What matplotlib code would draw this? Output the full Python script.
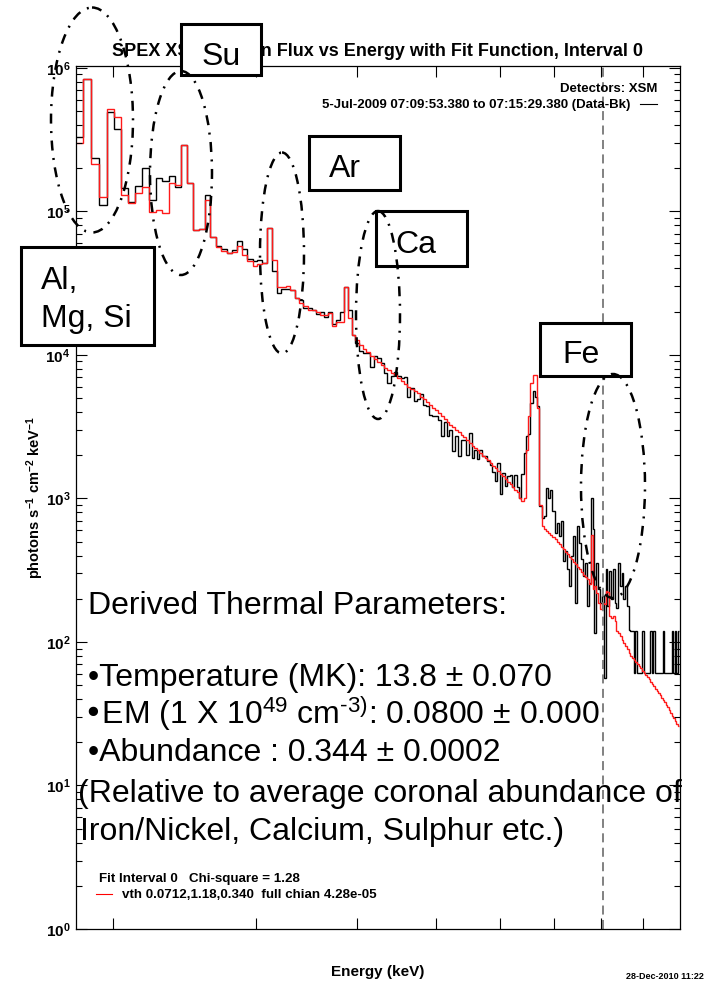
import numpy as np
import matplotlib
matplotlib.use('Agg')
import matplotlib.pyplot as plt
from matplotlib.patches import Ellipse, Rectangle
from matplotlib.ticker import FixedLocator, LogLocator, NullFormatter, NullLocator, FuncFormatter

plt.rcParams['font.family'] = ['Liberation Sans']
plt.rcParams['font.weight'] = 'bold'
plt.rcParams['mathtext.default'] = 'regular'

NARROW = ['Liberation Sans Narrow', 'Liberation Sans']

# XSM channel grid (keV)
chan_start = 1.795
chan_width = 0.042

# data - background (black histogram)
data_flux = [
    3.28e5, 8.36e5, 2.35e5, 1.11e5, 4.95e5, 3.73e5, 1.45e5, 1.17e5, 1.50e5, 2.00e5,
    1.20e5, 1.70e5, 1.64e5, 1.77e5, 1.49e5, 2.90e5, 1.57e5, 7.4e4, 7.5e4, 1.3e5,
    6.6e4, 5.75e4, 5.5e4, 5.1e4, 5.4e4, 6.2e4, 5.5e4, 4.65e4, 4.48e4, 4.6e4,
    4.37e4, 7.64e4, 3.87e4, 2.70e4, 2.87e4, 2.87e4, 2.81e4, 2.49e4, 2.4e4, 2.12e4,
    2.12e4, 2.04e4, 1.94e4, 1.98e4, 1.85e4, 2.0e4, 1.65e4, 1.76e4, 1.98e4, 2.97e4,
    2.06e4, 1.38e4, 1.21e4, 1.06e4, 1.03e4, 1.03e4, 8.3e3, 9.8e3, 9.5e3, 8.8e3,
    7.5e3, 6.4e3, 7.1e3, 7.55e3, 7.1e3, 6.9e3, 7.0e3, 5.1e3, 5.9e3, 4.75e3,
    4.9e3, 5.3e3, 4.5e3, 4.4e3, 3.84e3, 3.78e3, 3.73e3, 3.54e3, 2.71e3, 3.39e3,
    2.71e3, 3.0e3, 2.13e3, 2.71e3, 1.97e3, 2.54e3, 2.54e3, 2.02e3, 2.86e3, 1.92e3,
    2.16e3, 1.87e3, 2.16e3, 1.97e3, 1.99e3, 1.82e3, 1.72e3, 1.52e3, 1.32e3, 1.77e3,
    1.08e3, 1.51e3, 1.22e3, 1.43e3, 1.45e3, 1.2e3, 1.45e3, 1.2e3, 1.0e3, 1.47e3,
    2.08e3, 2.71e3, 2.79e3, 4.6e3, 5.6e3, 5.1e3, 4.4e3, 881, 733, 752,
    1180, 1010, 1140, 815, 575, 676, 546, 694, 366, 430,
    320, 245, 396, 546, 188, 640, 491, 376, 288, 356,
    178, 259, 1000, 608, 116, 356, 232, 188, 209, 56.5,
    320, 178, 312, 198, 320, 188, 173, 356, 245, 304,
    198, 245, 178, 122, 119, 119, 61, 119, 61, 61,
    61, 119, 61, 61, 61, 61, 119, 61, 119, 61,
    61, 61, 61, 61, 119, 61, 61, 61, 61, 61,
    119, 61, 119, 61, 119,
]

# vth fit model (red histogram)
model_flux = [
    2.98e5, 8.36e5, 2.14e5, 1.26e5, 5.14e5, 4.53e5, 1.30e5, 1.15e5, 1.34e5, 1.47e5,
    9.97e4, 1.02e5, 9.7e4, 1.57e5, 1.53e5, 2.90e5, 1.57e5, 7.4e4, 7.5e4, 1.2e5,
    6.6e4, 5.64e4, 5.3e4, 5.1e4, 5.2e4, 5.75e4, 4.98e4, 4.48e4, 4.13e4, 4.3e4,
    4.4e4, 7.64e4, 4.6e4, 2.97e4, 2.97e4, 3.0e4, 2.81e4, 2.49e4, 2.3e4, 2.2e4,
    2.07e4, 2.04e4, 1.98e4, 1.9e4, 1.9e4, 1.96e4, 1.6e4, 1.7e4, 1.7e4, 2.97e4,
    1.81e4, 1.38e4, 1.26e4, 1.18e4, 1.10e4, 1.04e4, 9.9e3, 9.4e3, 8.97e3, 8.55e3,
    8.1e3, 7.8e3, 7.5e3, 7.2e3, 6.9e3, 6.6e3, 6.3e3, 6.0e3, 5.8e3, 5.6e3,
    5.4e3, 5.1e3, 4.9e3, 4.7e3, 4.5e3, 4.3e3, 4.1e3, 3.94e3, 3.73e3, 3.58e3,
    3.43e3, 3.27e3, 3.15e3, 3.0e3, 2.89e3, 2.77e3, 2.67e3, 2.54e3, 2.44e3, 2.33e3,
    2.25e3, 2.16e3, 2.07e3, 1.99e3, 1.92e3, 1.84e3, 1.77e3, 1.69e3, 1.62e3, 1.55e3,
    1.49e3, 1.43e3, 1.37e3, 1.31e3, 1.26e3, 1.20e3, 1.15e3, 1.10e3, 1.0e3, 960,
    1.0e3, 2.19e3, 3.73e3, 6.4e3, 7.3e3, 7.3e3, 4.3e3, 907, 640, 608,
    592, 575, 555, 537, 518, 496, 478, 460, 441, 422,
    407, 392, 376, 360, 347, 334, 320, 307, 295, 284,
    273, 252, 560, 232, 245, 220, 188, 169, 188, 183,
    226, 222, 151, 148, 151, 140, 119, 116, 110, 104,
    99, 94, 89, 84, 80, 77, 75, 72, 70, 68,
    66, 63, 61, 59, 57, 55, 53, 51, 49, 47,
    45.5, 44, 42.5, 41, 39.5, 38, 36.5, 35, 33.5, 32,
    30.5, 29.5, 28.3, 27, 26,
]

x_ticks = [2, 3, 4, 5, 6, 7, 8, 9]
fe_marker = 8.04

edges = chan_start + chan_width * np.arange(len(data_flux) + 1)

W, H = 704, 981
fig = plt.figure(figsize=(W / 100, H / 100), dpi=100)
ax = fig.add_axes([76 / W, 1 - 929 / H, (680 - 76) / W, (929 - 66) / H])
ax.set_xscale('log')
ax.set_yscale('log')

ax.stairs(data_flux, edges, baseline=None, color='black', lw=1.0)
ax.stairs(model_flux, edges, baseline=None, color='#ff1a1a', lw=1.0)
ax.axvline(fe_marker, color='#777777', ls=(0, (5, 3)), lw=1.3)

ax.set_xlim(1.8, 10.0)
ax.set_ylim(1, 1.03e6)

ax.xaxis.set_major_locator(FixedLocator(x_ticks))
ax.xaxis.set_minor_locator(NullLocator())
ax.xaxis.set_major_formatter(NullFormatter())
ax.yaxis.set_major_locator(LogLocator(base=10, numticks=10))
ax.yaxis.set_minor_locator(LogLocator(base=10, subs=np.arange(2, 10), numticks=20))
ax.yaxis.set_minor_formatter(NullFormatter())
ax.yaxis.set_major_formatter(FuncFormatter(lambda v, p: r'$10^{%d}$' % round(np.log10(v))))
ax.tick_params(which='both', direction='in', top=True, right=True, width=0.8)
ax.tick_params(which='major', length=8, labelsize=11, pad=4)
ax.tick_params(which='minor', length=4)
for s in ax.spines.values():
    s.set_linewidth(0.9)

ax.set_title('SPEX XSM Photon Flux vs Energy with Fit Function, Interval 0',
             fontsize=13, fontweight='bold', family=NARROW, pad=7)
ax.set_ylabel(r'photons s$^{-1}$ cm$^{-2}$ keV$^{-1}$', fontsize=10.5,
              fontweight='bold', family=NARROW)
ax.yaxis.set_label_coords(-0.05, 0.5)
ax.set_xlabel('Energy (keV)', fontsize=11, fontweight='bold', family=NARROW, labelpad=22)

# overlay in pixel coordinates for annotations
ov = fig.add_axes([0, 0, 1, 1], zorder=10)
ov.set_xlim(0, W)
ov.set_ylim(H, 0)
ov.set_axis_off()
ov.patch.set_visible(False)

ov.text(657, 92, 'Detectors: XSM', ha='right', va='baseline', fontsize=9.5, family=NARROW)
ov.text(630, 108, '5-Jul-2009 07:09:53.380 to 07:15:29.380 (Data-Bk)', ha='right',
        va='baseline', fontsize=9.5, family=NARROW)
ov.plot([640, 657], [104, 104], color='black', lw=0.8)

ov.text(99, 882, 'Fit Interval 0   Chi-square = 1.28', ha='left', va='baseline',
        fontsize=9.6, family=NARROW)
ov.text(122, 898, 'vth 0.0712,1.18,0.340  full chian 4.28e-05', ha='left', va='baseline',
        fontsize=9.6, family=NARROW)
ov.plot([96, 112], [894, 894], color='red', lw=0.8)

ov.text(704, 979, '28-Dec-2010 11:22', ha='right', va='baseline', fontsize=6.5, family=NARROW)

big = dict(fontsize=23, fontweight='normal', ha='left', va='baseline', family=['Liberation Sans', 'DejaVu Sans'])
ov.text(88, 614, 'Derived Thermal Parameters:', **big)
ov.text(88, 686, '•Temperature (MK): 13.8 ± 0.070', **big)
ov.text(83, 724, r'•EM (1 X 10$^{49}$ cm$^{‐3)}$: 0.0800 ± 0.000', **big)
ov.text(88, 761, '•Abundance : 0.344 ± 0.0002', **big)
ov.text(78, 802, '(Relative to average coronal abundance of', **big)
ov.text(80, 840, 'Iron/Nickel, Calcium, Sulphur etc.)', **big)

# element boxes
boxes = [
    (181, 24, 80, 51, 202, [(65, 'Su')]),
    (309, 136, 91, 54, 329, [(177, 'Ar')]),
    (376, 211, 91, 55, 395, [(253, 'Ca')]),
    (21, 247, 133, 98, 41, [(289, 'Al,'), (327, 'Mg, Si')]),
    (540, 323, 91, 53, 562, [(363, 'Fe')]),
]
for bx, by, bw, bh, tx, lines in boxes:
    ov.add_patch(Rectangle((bx, by), bw, bh, facecolor='white', edgecolor='black', lw=2.2))
    for ty, t in lines:
        ov.text(tx, ty, t, **big)

# dash-dot ellipses around the line groups
ellipses = [(92, 120, 82, 225), (181, 173, 62, 204), (282, 253, 44, 201),
            (378, 315, 44, 208), (613, 486, 64, 224)]
for cx, cy, ew, eh in ellipses:
    ov.add_patch(Ellipse((cx, cy), ew, eh, fill=False, edgecolor='black', lw=1.8,
                         ls=(0, (4, 3, 0.8, 3))))

fig.savefig('out.png', dpi=100)
